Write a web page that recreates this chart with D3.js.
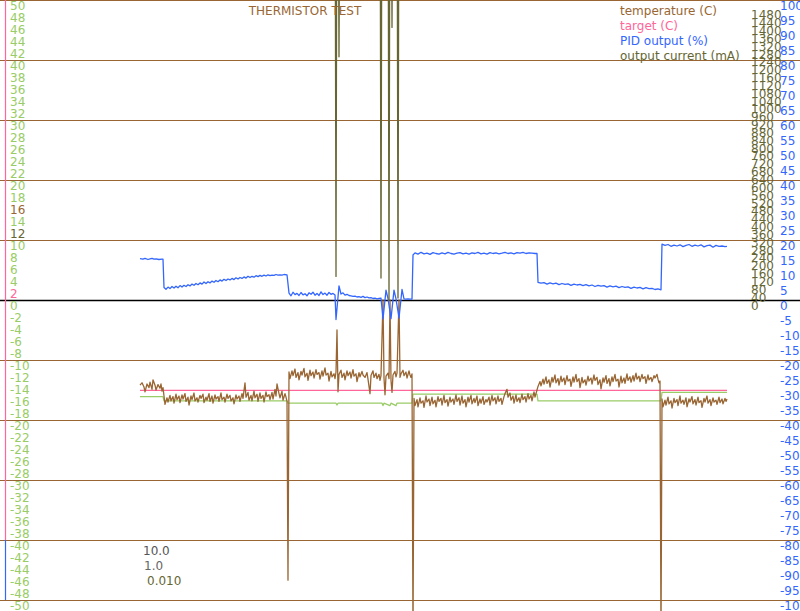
<!DOCTYPE html>
<html>
<head>
<meta charset="utf-8">
<script src="https://cdn.jsdelivr.net/npm/d3@7"></script>
<style>
  body { margin: 0; background: #fff; }
  svg { display: block; font-family: "DejaVu Sans", sans-serif; font-size: 12px; }
</style>
</head>
<body>
<div id="chart"></div>
<script>
// time is in seconds from the start of the log, pairs are [t, value]
const tempData = [
  [0,-14.2],[2,-13.8],[4,-14.5],[5,-15.3],[7,-14.0],[9,-14.6],[10,-13.7],[12,-14.9],[13,-13.3],[15,-14.2],[16,-15.0],[18,-14.1],[20,-14.7],[21,-14.0],[22,-15.2],[23,-14.6],
  [24,-16.0],[25,-17.4],[27,-16.3],[28,-17.0],[30,-15.9],[31,-16.8],[33,-16.1],[34,-17.2],[36,-15.7],[37,-16.6],[39,-16.0],[40,-17.1],[42,-15.8],[43,-16.5],[45,-15.6],[46,-16.9],[48,-16.2],[49,-17.5],
  [51,-16.0],[52,-16.6],[54,-15.5],[55,-16.8],[57,-16.3],[58,-17.0],[60,-15.9],[61,-16.4],[63,-15.7],[64,-17.1],[66,-16.2],[67,-16.7],[69,-15.6],[70,-16.9],[72,-16.0],[73,-17.2],[75,-15.8],[76,-16.5],
  [78,-16.1],[79,-16.9],[81,-15.5],[82,-16.6],[84,-16.2],[85,-17.0],[87,-15.7],[88,-16.4],[90,-15.9],[91,-16.8],[93,-16.3],[94,-17.3],[96,-15.8],[97,-16.5],[99,-16.0],[100,-16.9],[102,-15.6],[103,-16.4],
  [105,-13.8],[106,-16.2],[108,-15.4],[109,-16.7],[111,-15.9],[112,-16.8],[114,-15.2],[115,-16.3],[117,-15.7],[118,-16.9],[120,-15.5],[121,-16.4],[123,-15.9],[124,-17.0],[126,-15.3],[127,-16.1],
  [129,-15.8],[130,-16.6],[132,-15.4],[133,-16.5],[135,-14.9],[136,-16.0],[137,-14.0],[139,-15.6],[140,-16.3],[142,-15.2],[143,-16.7],[145,-15.6],[146,-16.2],[147,-16.9],
  [148,-46.7],
  [149,-12.0],[150,-13.1],[152,-11.8],[153,-12.6],[155,-11.5],[156,-12.9],[158,-12.1],[159,-13.3],[161,-11.9],[162,-12.5],[164,-11.4],[165,-12.8],[167,-12.2],[168,-13.4],[170,-11.7],[171,-12.6],
  [173,-12.0],[174,-13.0],[176,-11.6],[177,-12.4],[179,-12.1],[180,-13.2],[182,-11.8],[183,-12.7],[185,-11.3],[186,-12.5],[188,-12.2],[189,-13.5],[191,-11.9],[192,-12.8],[194,-12.3],[195,-13.1],
  [196,-12.0],[197,-5.0],[198,-15.3],[199,-12.4],[201,-11.7],[202,-12.9],[204,-12.2],[205,-13.3],[207,-11.8],[208,-12.6],[210,-12.0],[211,-13.0],[213,-11.6],[214,-12.7],[216,-12.3],[217,-13.6],
  [219,-12.1],[220,-12.8],[222,-11.9],[223,-12.5],[225,-12.9],[227,-12.1],[228,-13.2],[230,-15.6],[231,-12.6],[233,-11.8],[234,-12.9],[236,-12.2],[237,-13.1],[239,-12.4],[240,-13.4],[241,-12.6],
  [243,0],[244,-13.0],[245,-15.8],[246,-12.7],[248,-12.2],[249,-13.1],[250,0],[251,-13.4],[252,-15.4],[253,-12.5],[255,-11.9],[256,-12.8],[257,-12.2],[259,0],[260,-12.9],[261,-12.3],
  [263,-11.7],[264,-12.6],[266,-12.0],[267,-13.0],[269,-11.8],[270,-12.5],[271,-12.9],[272,-12.3],
  [273,-56],
  [274,-16.4],[275,-17.6],[277,-16.6],[278,-17.8],[280,-16.3],[281,-17.2],[283,-16.8],[284,-17.9],[286,-16.0],[287,-17.0],[289,-16.5],[290,-17.6],[292,-16.2],[293,-17.3],[295,-16.7],[296,-17.8],
  [298,-16.1],[299,-16.9],[301,-16.4],[302,-17.5],[304,-15.9],[305,-17.1],[307,-16.6],[308,-17.7],[310,-16.2],[311,-17.0],[313,-16.5],[314,-17.4],[316,-15.8],[317,-16.9],[319,-16.3],[320,-17.5],
  [322,-16.0],[323,-17.2],[325,-16.6],[326,-17.8],[328,-16.2],[329,-17.0],[331,-15.9],[332,-17.3],[334,-16.4],[335,-17.1],[337,-16.0],[338,-17.6],[340,-16.5],[341,-17.2],[343,-16.1],[344,-17.4],
  [346,-16.6],[347,-17.0],[349,-16.2],[350,-17.5],[352,-15.9],[353,-16.8],[355,-16.3],[356,-17.3],[358,-16.0],[359,-16.9],[361,-16.4],[362,-17.4],[364,-16.1],[365,-15.6],[367,-14.9],[368,-16.2],
  [370,-15.5],[371,-16.7],[373,-16.0],[374,-17.2],[376,-15.8],[377,-16.9],[379,-16.3],[380,-17.1],[382,-15.7],[383,-16.6],[385,-16.1],[386,-17.0],[388,-15.6],[389,-16.5],[391,-15.9],[392,-16.8],
  [394,-15.3],[395,-16.2],[396,-15.6],[397,-15.0],
  [398,-14.4],[400,-13.6],[401,-14.3],[403,-13.2],[404,-14.0],[406,-12.8],[407,-13.9],[409,-13.3],[410,-14.5],[412,-12.9],[413,-13.7],[415,-12.5],[416,-13.8],[418,-13.1],[419,-14.2],[421,-12.7],
  [422,-13.6],[424,-13.0],[425,-14.1],[427,-12.6],[428,-13.5],[430,-13.2],[431,-14.4],[433,-12.8],[434,-13.7],[436,-12.4],[437,-13.6],[439,-13.1],[440,-14.6],[442,-12.9],[443,-13.8],[445,-13.3],
  [446,-14.2],[448,-12.7],[449,-13.5],[451,-13.0],[452,-14.0],[454,-12.5],[455,-13.4],[457,-12.9],[458,-14.1],[460,-13.3],[461,-14.8],[463,-13.0],[464,-13.7],[466,-12.6],[467,-13.9],[469,-13.1],
  [470,-14.3],[472,-12.8],[473,-13.6],[475,-12.4],[476,-13.5],[478,-13.2],[479,-14.5],[481,-12.7],[482,-13.8],[484,-13.0],[485,-13.9],[487,-12.3],[488,-13.4],[490,-12.8],[491,-13.7],[493,-12.6],
  [494,-13.5],[496,-12.2],[497,-13.2],[499,-12.7],[500,-13.6],[502,-12.4],[503,-13.1],[505,-12.8],[506,-13.9],[508,-12.5],[509,-13.3],[511,-12.9],[512,-13.6],[514,-12.6],[515,-13.0],[517,-12.4],
  [518,-13.2],[519,-13.8],[520,-13.5],
  [521,-56],
  [522,-16.5],[523,-17.8],[525,-16.7],[526,-17.5],[528,-16.2],[529,-17.3],[531,-16.8],[532,-18.0],[534,-16.4],[535,-17.1],[537,-16.6],[538,-17.6],[540,-16.0],[541,-17.2],[543,-16.7],[544,-17.4],
  [546,-16.3],[547,-17.8],[549,-16.5],[550,-17.0],[552,-16.1],[553,-17.3],[555,-16.6],[556,-17.5],[558,-16.2],[559,-17.1],[561,-16.8],[562,-17.9],[564,-16.4],[565,-17.0],[567,-16.0],[568,-17.2],
  [570,-16.6],[571,-17.6],[573,-16.3],[574,-17.0],[576,-16.7],[577,-17.4],[579,-16.2],[580,-17.1],[582,-16.5],[583,-17.3],[585,-16.4],[586,-16.9],[587,-16.5]
];

const targetData = [[0,-15.05],[587,-15.05]];

// green trace (same scale as temperature)
const refData = [
  [0,-16.1],[23,-16.1],[24,-16.8],[147,-16.8],[148,-17.2],[196,-17.2],[197,-17.5],[198,-17.2],
  [242,-17.2],[243,-17.6],[244,-17.2],[250,-17.6],[251,-17.2],[256,-17.6],[257,-17.2],[272,-17.2],
  [273,-15.7],[397,-15.7],[398,-16.8],[521,-16.8],[522,-15.4],[587,-15.4]
];

const pidData = [
  [0,13.8],[3,13.6],[5,13.9],[8,13.5],[10,13.7],[12,13.9],[14,13.6],[16,13.7],[19,13.5],[22,13.6],[23,13.6],
  [24,4.2],[26,3.6],[28,4.3],[30,3.8],[32,4.5],[34,4.0],[36,4.6],[38,4.1],[40,4.8],[42,4.3],[44,4.9],[46,4.5],[48,5.1],[50,4.7],[52,5.3],[54,4.9],[56,5.5],[58,5.1],[60,5.7],[62,5.3],[64,6.0],
  [66,5.5],[68,6.1],[70,5.7],[72,6.3],[74,5.9],[76,6.5],[78,6.1],[80,6.7],[82,6.3],[84,6.9],[86,6.5],[88,7.0],[90,6.7],[92,7.2],[94,6.8],[96,7.4],[98,7.0],[100,7.5],[102,7.2],[104,7.7],
  [106,7.3],[108,7.9],[110,7.5],[112,7.9],[114,7.6],[116,8.1],[118,7.8],[120,8.2],[122,7.9],[124,8.3],[126,8.0],[128,8.4],[130,8.1],[132,8.3],[134,8.2],[136,8.5],[138,8.3],[140,8.4],[142,8.3],[144,8.5],[147,8.4],
  [149,2.3],[151,1.4],[153,2.6],[155,1.8],[157,2.2],[159,1.5],[161,2.5],[163,1.7],[165,2.1],[167,1.4],[169,2.4],[171,1.9],[173,2.6],[175,1.6],[177,2.2],[179,1.5],[181,2.7],[183,1.8],[185,2.3],
  [187,1.6],[189,2.5],[191,1.9],[193,2.2],[195,1.7],
  [196,-6.5],[199,4.7],[201,2.0],[203,2.4],[205,1.6],[207,1.9],[209,1.5],[211,1.4],[213,1.2],[215,1.3],[217,1.0],[219,1.1],[221,0.9],[223,1.2],[225,0.8],[227,1.0],[229,0.7],[231,0.8],
  [233,0.5],[235,0.6],[237,0.4],[239,0.5],[241,0.6],
  [243,-6.3],[246,3.3],[248,0.5],[251,-6.2],[254,3.3],[256,0.4],[259,-6.0],[262,3.5],[264,0.4],[266,0.3],[268,0.4],[270,0.3],[272,0.3],
  [273,15.0],[275,15.7],[278,15.3],[281,15.9],[284,15.4],[287,15.6],[290,15.2],[293,15.8],[296,15.5],[299,15.3],[302,15.7],[305,15.4],[308,15.9],[311,15.5],[314,15.3],[317,15.6],[320,15.8],
  [323,15.4],[326,15.6],[329,15.3],[332,15.7],[335,15.5],[338,15.9],[341,15.4],[344,15.6],[347,15.3],[350,15.8],[353,15.5],[356,15.7],[359,15.4],[362,15.6],[365,15.9],[368,15.5],[371,15.7],
  [374,15.4],[377,15.8],[380,15.6],[383,15.9],[386,15.5],[389,15.7],[392,15.6],[395,15.5],[397,15.5],
  [398,5.9],[401,5.6],[404,5.8],[407,5.3],[410,5.7],[413,5.4],[416,5.6],[419,5.1],[422,5.5],[425,5.2],[428,5.4],[431,4.9],[434,5.3],[437,5.0],[440,5.2],[443,4.8],[446,5.1],[449,4.7],
  [452,5.0],[455,4.5],[458,4.9],[461,4.6],[464,4.8],[467,4.3],[470,4.7],[473,4.4],[476,4.6],[479,4.1],[482,4.5],[485,4.2],[488,4.4],[491,3.9],[494,4.3],[497,4.0],[500,4.2],[503,3.7],
  [506,4.1],[509,3.8],[512,3.9],[515,3.5],[518,3.7],[521,3.4],
  [522,18.6],[525,18.2],[528,18.5],[531,17.9],[534,18.3],[537,18.0],[540,18.4],[543,17.8],[546,18.2],[549,18.5],[552,17.9],[555,18.3],[558,18.0],[561,18.4],[564,17.7],[567,18.1],
  [570,18.3],[573,17.6],[576,18.2],[579,17.9],[582,18.0],[585,17.8],[587,17.9]
];

// output current sits above the top of the scale and only dips into view
const currentData = [
  [0,2500],[195,2500],[196,120],[197,2500],[198,2500],[199,1240],[200,2500],[240,2500],[241,112],[242,2500],
  [248,2500],[249,0],[250,2500],[251,2500],[252,1390],[253,2500],[257,2500],[258,10],[259,2500],[587,2500]
];

const leftTicks = d3.range(-50, 51, 2);
const pidTicks = d3.range(-100, 101, 5);
const currentTicks = d3.range(0, 1481, 40);
const gridValues = d3.range(-50, 51, 10).filter(v => v !== 0);

const legendItems = [
  { label: "temperature (C)", color: "#996633" },
  { label: "target (C)", color: "#ff6699" },
  { label: "PID output (%)", color: "#3366ff" },
  { label: "output current (mA)", color: "#666633" }
];
const scaleNotes = [
  { label: "10.0", color: "#555555", dx: 0 },
  { label: "1.0", color: "#666666", dx: 1 },
  { label: "0.010", color: "#666633", dx: 4 }
];

const width = 800, height = 611;

const svg = d3.select("#chart").append("svg")
  .attr("width", width)
  .attr("height", height);

const x = d3.scaleLinear().domain([0, 587]).range([140, 727]);
const yLeft = d3.scaleLinear().domain([-50, 50]).range([600, 0]);
const yPid = d3.scaleLinear().domain([-100, 100]).range([600, 0]);
const yCur = d3.scaleLinear().domain([0, 1530]).range([300, 0]);

// grid (half-pixel offset keeps the lines crisp)
svg.append("g").selectAll("line")
  .data(gridValues)
  .join("line")
  .attr("x1", 0).attr("x2", width)
  .attr("y1", d => yLeft(d) + 0.5).attr("y2", d => yLeft(d) + 0.5)
  .attr("stroke", "#996633")
  .attr("stroke-width", 1);

svg.append("line")
  .attr("x1", 0).attr("x2", width)
  .attr("y1", yLeft(0) + 0.5).attr("y2", yLeft(0) + 0.5)
  .attr("stroke", "#000")
  .attr("stroke-width", 1.5);

// cursor bar on the left
svg.append("line")
  .attr("x1", 5.5).attr("x2", 5.5)
  .attr("y1", yLeft(50)).attr("y2", yLeft(-40))
  .attr("stroke", "#ff6699").attr("stroke-width", 1.2);
svg.append("line")
  .attr("x1", 5.5).attr("x2", 5.5)
  .attr("y1", yLeft(-40)).attr("y2", yLeft(-50))
  .attr("stroke", "#3366ff").attr("stroke-width", 1.2);

// axis labels
function leftColor(v) {
  if (v === 16) return "#996633";
  if (v === 12) return "#666633";
  if (v === 2) return "#ff6699";
  return "#99cc66";
}

svg.append("g").selectAll("text")
  .data(leftTicks)
  .join("text")
  .attr("x", 10)
  .attr("y", d => yLeft(d) + 9.5)
  .attr("fill", leftColor)
  .text(d => d);

svg.append("g").selectAll("text")
  .data(currentTicks)
  .join("text")
  .attr("x", 751)
  .attr("y", d => yCur(d) + 9.5)
  .attr("fill", "#666633")
  .text(d => d);

svg.append("g").selectAll("text")
  .data(pidTicks)
  .join("text")
  .attr("x", 780)
  .attr("y", d => yPid(d) + 9.5)
  .attr("fill", "#3366ff")
  .text(d => d);

// series
const lineLeft = d3.line().x(d => x(d[0])).y(d => yLeft(d[1]));
const linePid = d3.line().x(d => x(d[0])).y(d => yPid(d[1]));
const lineCur = d3.line().x(d => x(d[0])).y(d => yCur(d[1]));

function drawLine(data, gen, color) {
  svg.append("path")
    .datum(data)
    .attr("d", gen)
    .attr("fill", "none")
    .attr("stroke", color)
    .attr("stroke-width", 1.3)
    .attr("stroke-linejoin", "round");
}

drawLine(refData, lineLeft, "#99cc66");
drawLine(targetData, lineLeft, "#ff6699");
drawLine(tempData, lineLeft, "#996633");
drawLine(pidData, linePid, "#3366ff");
drawLine(currentData, lineCur, "#666633");

// title and legend
svg.append("text")
  .attr("x", 305)
  .attr("y", 15)
  .attr("text-anchor", "middle")
  .attr("fill", "#996633")
  .text("THERMISTOR TEST");

svg.append("g").selectAll("text")
  .data(legendItems)
  .join("text")
  .attr("x", 620)
  .attr("y", (d, i) => 15 + i * 15)
  .attr("fill", d => d.color)
  .text(d => d.label);

svg.append("g").selectAll("text")
  .data(scaleNotes)
  .join("text")
  .attr("x", d => 143 + d.dx)
  .attr("y", (d, i) => 554.5 + i * 15)
  .attr("fill", d => d.color)
  .text(d => d.label);
</script>
</body>
</html>
